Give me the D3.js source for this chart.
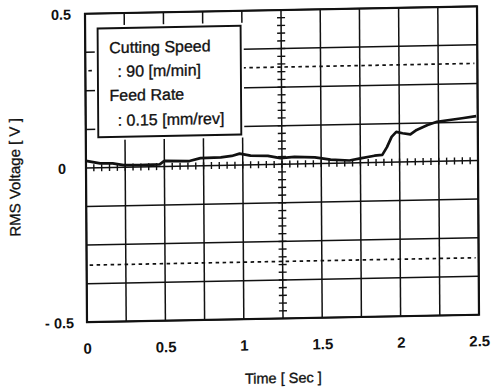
<!DOCTYPE html>
<html>
<head>
<meta charset="utf-8">
<script src="https://cdn.jsdelivr.net/npm/d3@7"></script>
<style>
  html, body { margin: 0; padding: 0; background: #fff; }
  svg { display: block; }
  text { font-family: "Liberation Sans", Arial, Helvetica, sans-serif; fill: #111; }
</style>
</head>
<body>
<svg id="chart" width="497" height="390"></svg>
<script>
// ---- data ----
const timeSec = [0, 0.09, 0.17, 0.24, 0.34, 0.47, 0.50, 0.66, 0.73, 0.86, 0.93, 0.98, 1.05, 1.16, 1.24, 1.33, 1.46, 1.56, 1.68, 1.75, 1.84, 1.89, 1.92, 1.95, 1.98, 2.02, 2.07, 2.11, 2.18, 2.24, 2.32, 2.40, 2.49];
const rmsVoltage = [0.023, 0.014, 0.013, 0.007, 0.006, 0.007, 0.018, 0.016, 0.025, 0.026, 0.030, 0.037, 0.030, 0.028, 0.020, 0.023, 0.020, 0.012, 0.008, 0.014, 0.022, 0.024, 0.049, 0.082, 0.098, 0.093, 0.089, 0.103, 0.118, 0.128, 0.133, 0.138, 0.144];
const xTickValues = [0, 0.5, 1, 1.5, 2, 2.5];
const xTickLabels = ["0", "0.5", "1", "1.5", "2", "2.5"];
const yTickValues = [0.5, 0, -0.5];
const yTickLabels = ["0.5", "0", "- 0.5"];
const limitLines = [0.315, -0.315];
const legendLines = ["Cutting Speed", ": 90 [m/min]", "Feed Rate", ": 0.15 [mm/rev]"];
const xTitle = "Time [ Sec ]";
const yTitle = "RMS Voltage [ V ]";

// ---- layout ----
const L = 86, R = 478, T = 10, B = 318.5;
const x = d3.scaleLinear().domain([0, 2.5]).range([L, R]);
const y = d3.scaleLinear().domain([-0.5, 0.5]).range([B, T]);
const ink = "#111";

const svg = d3.select("#chart");
// slight skew like the scanned original
const g = svg.append("g")
  .attr("transform", `matrix(1,-0.019,0.0065,1,${-0.0065*164.25},${0.019*282})`);

// grid
const xGrid = d3.range(0, 2.5001, 0.25);
const yGrid = d3.range(-0.5, 0.5001, 0.125);
g.append("g").selectAll("line").data(xGrid).join("line")
  .attr("x1", d => x(d)).attr("x2", d => x(d))
  .attr("y1", T).attr("y2", B)
  .attr("stroke", ink).attr("stroke-width", 1.5);
g.append("g").selectAll("line").data(yGrid).join("line")
  .attr("x1", L).attr("x2", R)
  .attr("y1", d => y(d)).attr("y2", d => y(d))
  .attr("stroke", ink).attr("stroke-width", 1.5);

// frame
g.append("rect").attr("x", L).attr("y", T).attr("width", R - L).attr("height", B - T)
  .attr("fill", "none").attr("stroke", ink).attr("stroke-width", 2.2);

// dashed limit lines
g.append("g").selectAll("line").data(limitLines).join("line")
  .attr("x1", L + 3).attr("x2", R - 3)
  .attr("y1", d => y(d)).attr("y2", d => y(d))
  .attr("stroke", ink).attr("stroke-width", 1.7)
  .attr("stroke-dasharray", "3.5,3.5");

// centre axes minor ticks
const xMinor = d3.range(0.05, 2.5, 0.05);
g.append("g").selectAll("line").data(xMinor).join("line")
  .attr("x1", d => x(d)).attr("x2", d => x(d))
  .attr("y1", y(0) - 3.5).attr("y2", y(0) + 3.5)
  .attr("stroke", ink).attr("stroke-width", 1.4);
const yMinor = d3.range(-0.475, 0.5, 0.025);
g.append("g").selectAll("line").data(yMinor).join("line")
  .attr("x1", x(1.25) - 4).attr("x2", x(1.25) + 4)
  .attr("y1", d => y(d)).attr("y2", d => y(d))
  .attr("stroke", ink).attr("stroke-width", 1.4);

// data line
const pts = timeSec.map((t, i) => [t, rmsVoltage[i]]);
g.append("path").datum(pts)
  .attr("fill", "none").attr("stroke", ink).attr("stroke-width", 2.7)
  .attr("stroke-linejoin", "round")
  .attr("d", d3.line().x(d => x(d[0])).y(d => y(d[1])));

// legend box
const bx = 98.5, by = 25, bw = 143, bh = 108.7;
g.append("rect").attr("x", bx - 3).attr("y", by - 3).attr("width", bw + 6).attr("height", bh + 6)
  .attr("fill", "#fff");
g.append("rect").attr("x", bx).attr("y", by).attr("width", bw).attr("height", bh)
  .attr("fill", "#fff").attr("stroke", ink).attr("stroke-width", 1.9);
const legX = [110, 118, 110, 118];
const legY = [50, 73.8, 97.7, 122.7];
g.append("g").selectAll("text").data(legendLines).join("text")
  .attr("x", (d, i) => legX[i]).attr("y", (d, i) => legY[i])
  .attr("font-size", 16).style("white-space", "pre")
  .attr("stroke", ink).attr("stroke-width", 0.35)
  .text(d => d);

// x axis labels
const xAxis = d3.axisBottom(x).tickValues(xTickValues)
  .tickFormat((d, i) => xTickLabels[i]).tickSize(0).tickPadding(0);
const xa = g.append("g").attr("transform", `translate(0,${B})`).call(xAxis);
xa.select(".domain").remove();
xa.selectAll("text").attr("font-size", 15).attr("fill", ink).attr("font-weight", "bold")
  .attr("dy", null).attr("y", 31.5);

// y axis labels
const yAxis = d3.axisLeft(y).tickValues(yTickValues)
  .tickFormat((d, i) => yTickLabels[i]).tickSize(0).tickPadding(0);
const ya = g.append("g").attr("transform", "translate(62,0)").call(yAxis);
ya.select(".domain").remove();
ya.selectAll("text").attr("font-size", 14.5).attr("fill", ink).attr("font-weight", "bold")
  .attr("dy", "0.35em")
  .attr("text-anchor", d => d < 0 ? "end" : "middle")
  .attr("x", d => d < 0 ? 11 : 0);

// titles
g.append("text").attr("x", (L + R) / 2).attr("y", 383)
  .attr("text-anchor", "middle").attr("font-size", 14.5).style("white-space", "pre")
  .attr("stroke", ink).attr("stroke-width", 0.35)
  .text(xTitle);
g.append("text").attr("transform", "translate(20,172.4) rotate(-90)")
  .attr("text-anchor", "middle").attr("font-size", 15).style("white-space", "pre")
  .attr("stroke", ink).attr("stroke-width", 0.3)
  .text(yTitle);
</script>
</body>
</html>
